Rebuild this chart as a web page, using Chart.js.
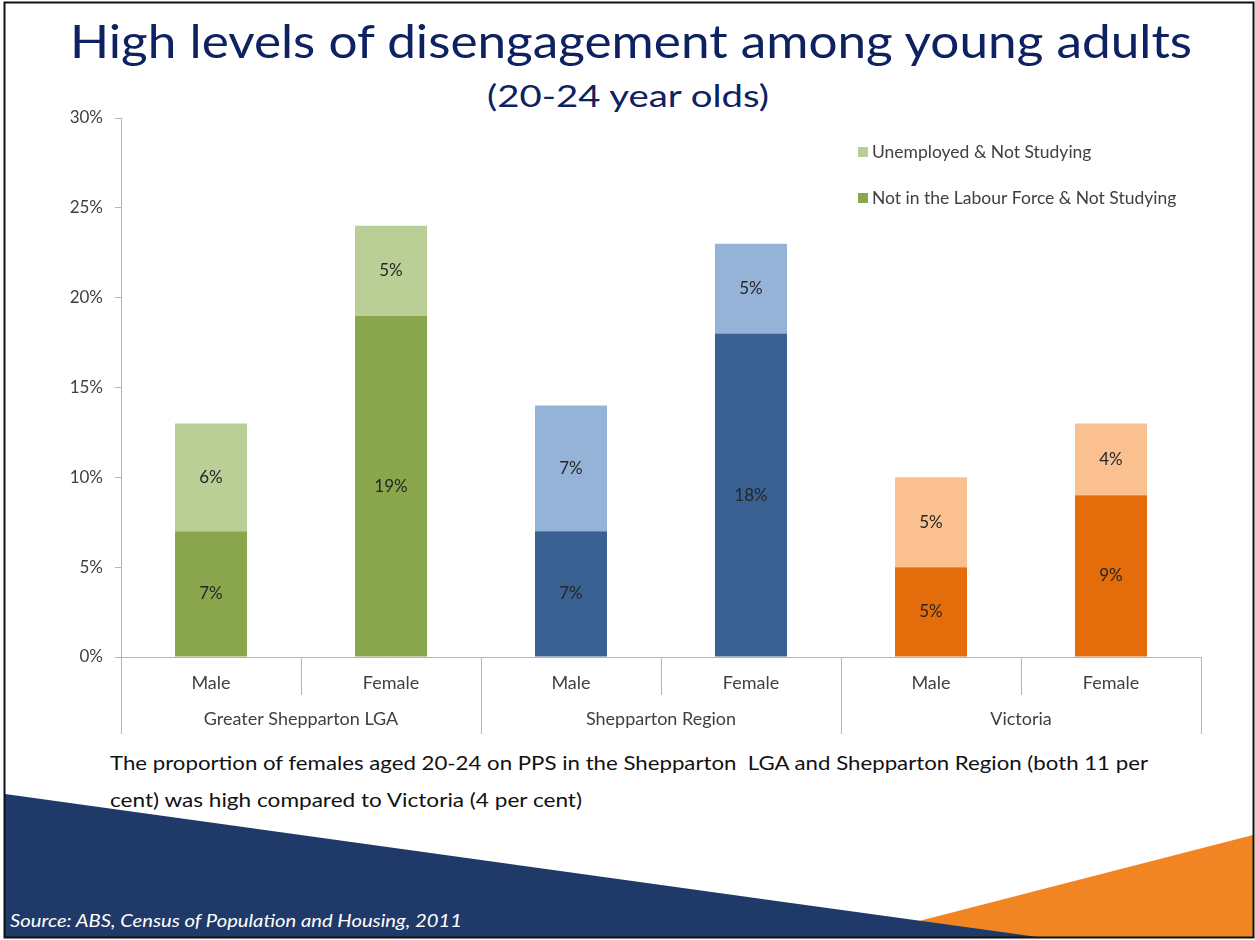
<!DOCTYPE html>
<html>
<head>
<meta charset="utf-8">
<script src="https://cdn.jsdelivr.net/npm/chart.js@4.4.0/dist/chart.umd.min.js"></script>
<style>
html,body{margin:0;padding:0;background:#fff;}
#wrap{position:relative;width:1255px;height:940px;overflow:hidden;background:#fff;}
#deco{position:absolute;left:0;top:0;}
#c{position:absolute;left:0;top:0;}
text{font-family:Lato,"Open Sans",sans-serif;white-space:pre;}
</style>
</head>
<body>
<div id="wrap">
<svg id="deco" width="1255" height="940" xmlns="http://www.w3.org/2000/svg">
  <polygon points="1253,835 1253,937 857,937" fill="#f18524"/>
  <polygon points="5,794 1037,937 5,937" fill="#1f3a68"/>
  <rect x="4.5" y="2.5" width="1249" height="935" fill="none" stroke="#111" stroke-width="2"/>
  <text x="631" y="58" text-anchor="middle" font-size="46" fill="#0e2161" textLength="1122" lengthAdjust="spacingAndGlyphs">High levels of disengagement among young adults</text>
  <text x="628" y="107" text-anchor="middle" font-size="31" fill="#0e2161" textLength="282" lengthAdjust="spacingAndGlyphs">(20-24 year olds)</text>
  <text x="110" y="770" font-size="20" fill="#111" textLength="1038" lengthAdjust="spacingAndGlyphs">The proportion of females aged 20-24 on PPS in the Shepparton  LGA and Shepparton Region (both 11 per</text>
  <text x="110" y="807" font-size="20" fill="#111" textLength="472" lengthAdjust="spacingAndGlyphs">cent) was high compared to Victoria (4 per cent)</text>
  <text x="10" y="927" font-size="18" font-style="italic" fill="#ffffff" textLength="452" lengthAdjust="spacingAndGlyphs">Source: ABS, Census of Population and Housing, 2011</text>
</svg>
<canvas id="c" width="1255" height="940"></canvas>
</div>
<script>
// ---- data ----
const categories = ['Male', 'Female', 'Male', 'Female', 'Male', 'Female'];
const groups = ['Greater Shepparton LGA', 'Shepparton Region', 'Victoria'];
const seriesNames = ['Unemployed & Not Studying', 'Not in the Labour Force & Not Studying'];
const notInLabourForce = [7, 19, 7, 18, 5, 9];
const unemployed = [6, 5, 7, 5, 5, 4];
const yTickValues = [0, 5, 10, 15, 20, 25, 30];

// ---- styles ----
const darkColors = ['#8aa64c', '#8aa64c', '#386192', '#386192', '#e46c0a', '#e46c0a'];
const lightColors = ['#bacf96', '#bacf96', '#95b3d7', '#95b3d7', '#fac090', '#fac090'];
const axisColor = '#b5b5b5';
const textColor = '#404040';
const FONT = 'Lato, "Open Sans", sans-serif';

const overlay = {
  id: 'overlay',
  afterDatasetsDraw(chart) {
    const ctx = chart.ctx;
    ctx.save();
    ctx.font = '17px ' + FONT;
    ctx.fillStyle = '#262626';
    ctx.textAlign = 'center';
    ctx.textBaseline = 'middle';
    chart.data.datasets.forEach((ds, di) => {
      const meta = chart.getDatasetMeta(di);
      meta.data.forEach((bar, i) => {
        const p = bar.getProps(['x', 'y', 'base'], true);
        ctx.fillText(ds.data[i] + '%', p.x, (p.y + p.base) / 2);
      });
    });
    ctx.restore();
  },
  afterDraw(chart) {
    const ctx = chart.ctx;
    const xs = chart.scales.x;
    const y0 = chart.chartArea.bottom;
    const n = categories.length;
    ctx.save();
    ctx.strokeStyle = axisColor;
    ctx.lineWidth = 1;
    for (let i = 0; i <= n; i++) {
      const x = Math.round(xs.getPixelForValue(i - 0.5)) + 0.5;
      const len = (i % 2 === 0) ? 77 : 38;
      ctx.beginPath();
      ctx.moveTo(x, y0);
      ctx.lineTo(x, y0 + len);
      ctx.stroke();
    }
    ctx.font = '18px ' + FONT;
    ctx.fillStyle = textColor;
    ctx.textAlign = 'center';
    ctx.textBaseline = 'middle';
    groups.forEach((g, gi) => {
      const x = xs.getPixelForValue(gi * 2 + 0.5);
      ctx.fillText(g, x, y0 + 62);
    });
    // legend
    const lx = chart.chartArea.right - 343;
    const ly = [chart.chartArea.top + 34, chart.chartArea.top + 80];
    const legendColors = [lightColors[0], darkColors[0]];
    ctx.textAlign = 'left';
    ctx.font = '17.5px ' + FONT;
    seriesNames.forEach((name, k) => {
      ctx.fillStyle = legendColors[k];
      ctx.fillRect(lx, ly[k] - 5, 10, 10);
      ctx.fillStyle = textColor;
      ctx.fillText(name, lx + 14, ly[k]);
    });
    ctx.restore();
  }
};

new Chart(document.getElementById('c'), {
  type: 'bar',
  data: {
    labels: categories,
    datasets: [
      { label: seriesNames[1], data: notInLabourForce, backgroundColor: darkColors, borderWidth: 0 },
      { label: seriesNames[0], data: unemployed, backgroundColor: lightColors, borderWidth: 0 }
    ]
  },
  options: {
    responsive: false,
    animation: false,
    devicePixelRatio: 1,
    layout: { padding: { left: 0, right: 54, top: 118, bottom: 203 } },
    plugins: { legend: { display: false }, tooltip: { enabled: false }, title: { display: false } },
    datasets: { bar: { categoryPercentage: 1, barPercentage: 0.4 } },
    scales: {
      x: {
        stacked: true,
        grid: { display: true, drawOnChartArea: false, drawTicks: false, color: 'rgba(0,0,0,0)' },
        border: { display: true, color: axisColor, width: 1 },
        ticks: { color: textColor, font: { family: FONT, size: 18 }, padding: 15, maxRotation: 0, autoSkip: false },
        afterFit(scale) { scale.height = 80; }
      },
      y: {
        stacked: true,
        min: 0, max: 30,
        afterBuildTicks(scale) { scale.ticks = yTickValues.map(v => ({ value: v })); },
        grid: { drawOnChartArea: false, drawTicks: true, tickLength: 6, color: axisColor },
        border: { display: true, color: axisColor, width: 1 },
        ticks: { color: textColor, font: { family: FONT, size: 17 }, padding: 12, callback: v => v + '%' },
        afterFit(scale) { scale.width = 121; }
      }
    }
  },
  plugins: [overlay]
});
</script>
</body>
</html>
